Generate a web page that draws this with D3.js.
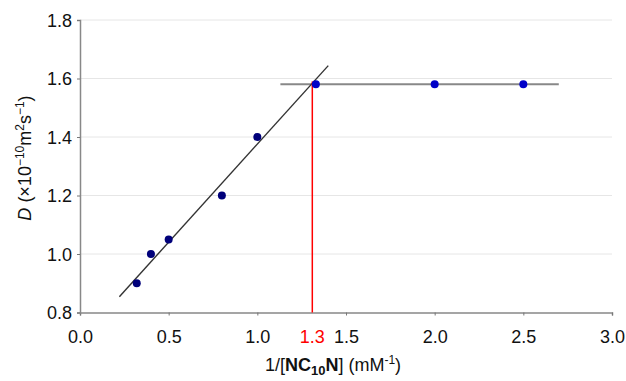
<!DOCTYPE html>
<html><head><meta charset="utf-8">
<script src="https://cdn.jsdelivr.net/npm/d3@7"></script>
<style>
body{margin:0;background:#fff;}
text{font-family:"Liberation Sans",Arial,Helvetica,sans-serif;}
</style></head>
<body><svg id="c" width="626" height="381"></svg>
<script>
// data
const xTicks = [0.0, 0.5, 1.0, 1.5, 2.0, 2.5, 3.0];
const xTickLabels = ["0.0","0.5","1.0","1.5","2.0","2.5","3.0"];
const yTicks = [0.8, 1.0, 1.2, 1.4, 1.6, 1.8];
const yTickLabels = ["0.8","1.0","1.2","1.4","1.6","1.8"];
const riseX = [0.32, 0.40, 0.50, 0.80, 1.00];
const riseY = [0.90, 1.00, 1.05, 1.20, 1.40];
const plateauX = [1.33, 2.00, 2.50];
const plateauY = [1.58, 1.58, 1.58];
const fitLineX = [0.222, 1.40];
const fitLineY = [0.854, 1.644];
const plateauLineX = [1.13, 2.70];
const plateauLineY = [1.58, 1.58];
const cmcX = 1.31, cmcTop = 1.59, cmcLabel = "1.3";

const svg = d3.select("#c");
const x = d3.scaleLinear().domain([0, 3]).range([80, 612]);
const y = d3.scaleLinear().domain([0.8, 1.8]).range([312.5, 20]);

// gridlines
svg.append("g").selectAll("line").data(yTicks.slice(1)).join("line")
  .attr("x1", x(0)).attr("x2", x(3)).attr("y1", d=>y(d)).attr("y2", d=>y(d))
  .attr("stroke", "#e6e6e6").attr("stroke-width", 1);

// axes
const xAxis = d3.axisBottom(x).tickValues(xTicks).tickSize(3).tickFormat((d,i)=>xTickLabels[i]);
const gx = svg.append("g").attr("transform", `translate(0,${y(0.8)})`).call(xAxis);
gx.select(".domain").attr("stroke", "#888").attr("stroke-width", 1.5);
gx.selectAll(".tick line").attr("stroke", "#777");
gx.selectAll(".tick text").attr("font-size", 18).attr("fill", "#111").attr("y", 0).attr("dy", 30);

const yAxis = d3.axisLeft(y).tickValues(yTicks).tickSize(3).tickFormat((d,i)=>yTickLabels[i]);
const gy = svg.append("g").attr("transform", `translate(${x(0)},0)`).call(yAxis);
gy.select(".domain").attr("stroke", "#888").attr("stroke-width", 1.5);
gy.selectAll(".tick line").attr("stroke", "#777");
gy.selectAll(".tick text").attr("font-size", 18).attr("fill", "#111").attr("x", -8).attr("dy", "0.36em");

// lines
const line = d3.line().x(d=>x(d[0])).y(d=>y(d[1]));
svg.append("path").datum(plateauLineX.map((v,i)=>[v, plateauLineY[i]]))
  .attr("d", line).attr("stroke", "#888").attr("stroke-width", 2).attr("fill", "none");
svg.append("path").datum(fitLineX.map((v,i)=>[v, fitLineY[i]]))
  .attr("d", line).attr("stroke", "#333").attr("stroke-width", 1.4).attr("fill", "none");

// red line
svg.append("line").attr("x1", x(cmcX)).attr("x2", x(cmcX)).attr("y1", y(cmcTop)).attr("y2", y(0.8))
  .attr("stroke", "#ff0000").attr("stroke-width", 1.5);
svg.append("text").attr("x", x(cmcX)).attr("y", y(0.8)).attr("dy", 30).attr("text-anchor", "middle")
  .attr("font-size", 18).attr("fill", "#ff0000").text(cmcLabel);

// points
svg.append("g").selectAll("circle").data(riseX.map((v,i)=>[v, riseY[i]])).join("circle")
  .attr("cx", d=>x(d[0])).attr("cy", d=>y(d[1])).attr("r", 4).attr("fill", "#00007a");
svg.append("g").selectAll("circle").data(plateauX.map((v,i)=>[v, plateauY[i]])).join("circle")
  .attr("cx", d=>x(d[0])).attr("cy", d=>y(d[1])).attr("r", 4).attr("fill", "#0000c8");

// x title
const xt = svg.append("text").attr("x", 333).attr("y", 371).attr("text-anchor", "middle")
  .attr("font-size", 18).attr("fill", "#111");
xt.append("tspan").text("1/[");
xt.append("tspan").attr("font-weight", "bold").text("NC");
xt.append("tspan").attr("font-weight", "bold").attr("font-size", 13).attr("dy", 4).text("10");
xt.append("tspan").attr("font-weight", "bold").attr("dy", -4).text("N");
xt.append("tspan").text("] (mM");
xt.append("tspan").attr("font-size", 12).attr("dy", -7).text("-1");
xt.append("tspan").attr("dy", 7).text(")");

// y title
const yt = svg.append("text").attr("transform", "translate(31,158) rotate(-90)")
  .attr("text-anchor", "middle").attr("font-size", 18).attr("fill", "#111");
yt.append("tspan").attr("font-style", "italic").text("D");
yt.append("tspan").text(" (×10");
yt.append("tspan").attr("font-size", 12).attr("dy", -7).text("−10");
yt.append("tspan").attr("dy", 7).text("m");
yt.append("tspan").attr("font-size", 12).attr("dy", -7).text("2");
yt.append("tspan").attr("dy", 7).text("s");
yt.append("tspan").attr("font-size", 12).attr("dy", -7).text("−1");
yt.append("tspan").attr("dy", 7).text(")");
</script></body></html>
